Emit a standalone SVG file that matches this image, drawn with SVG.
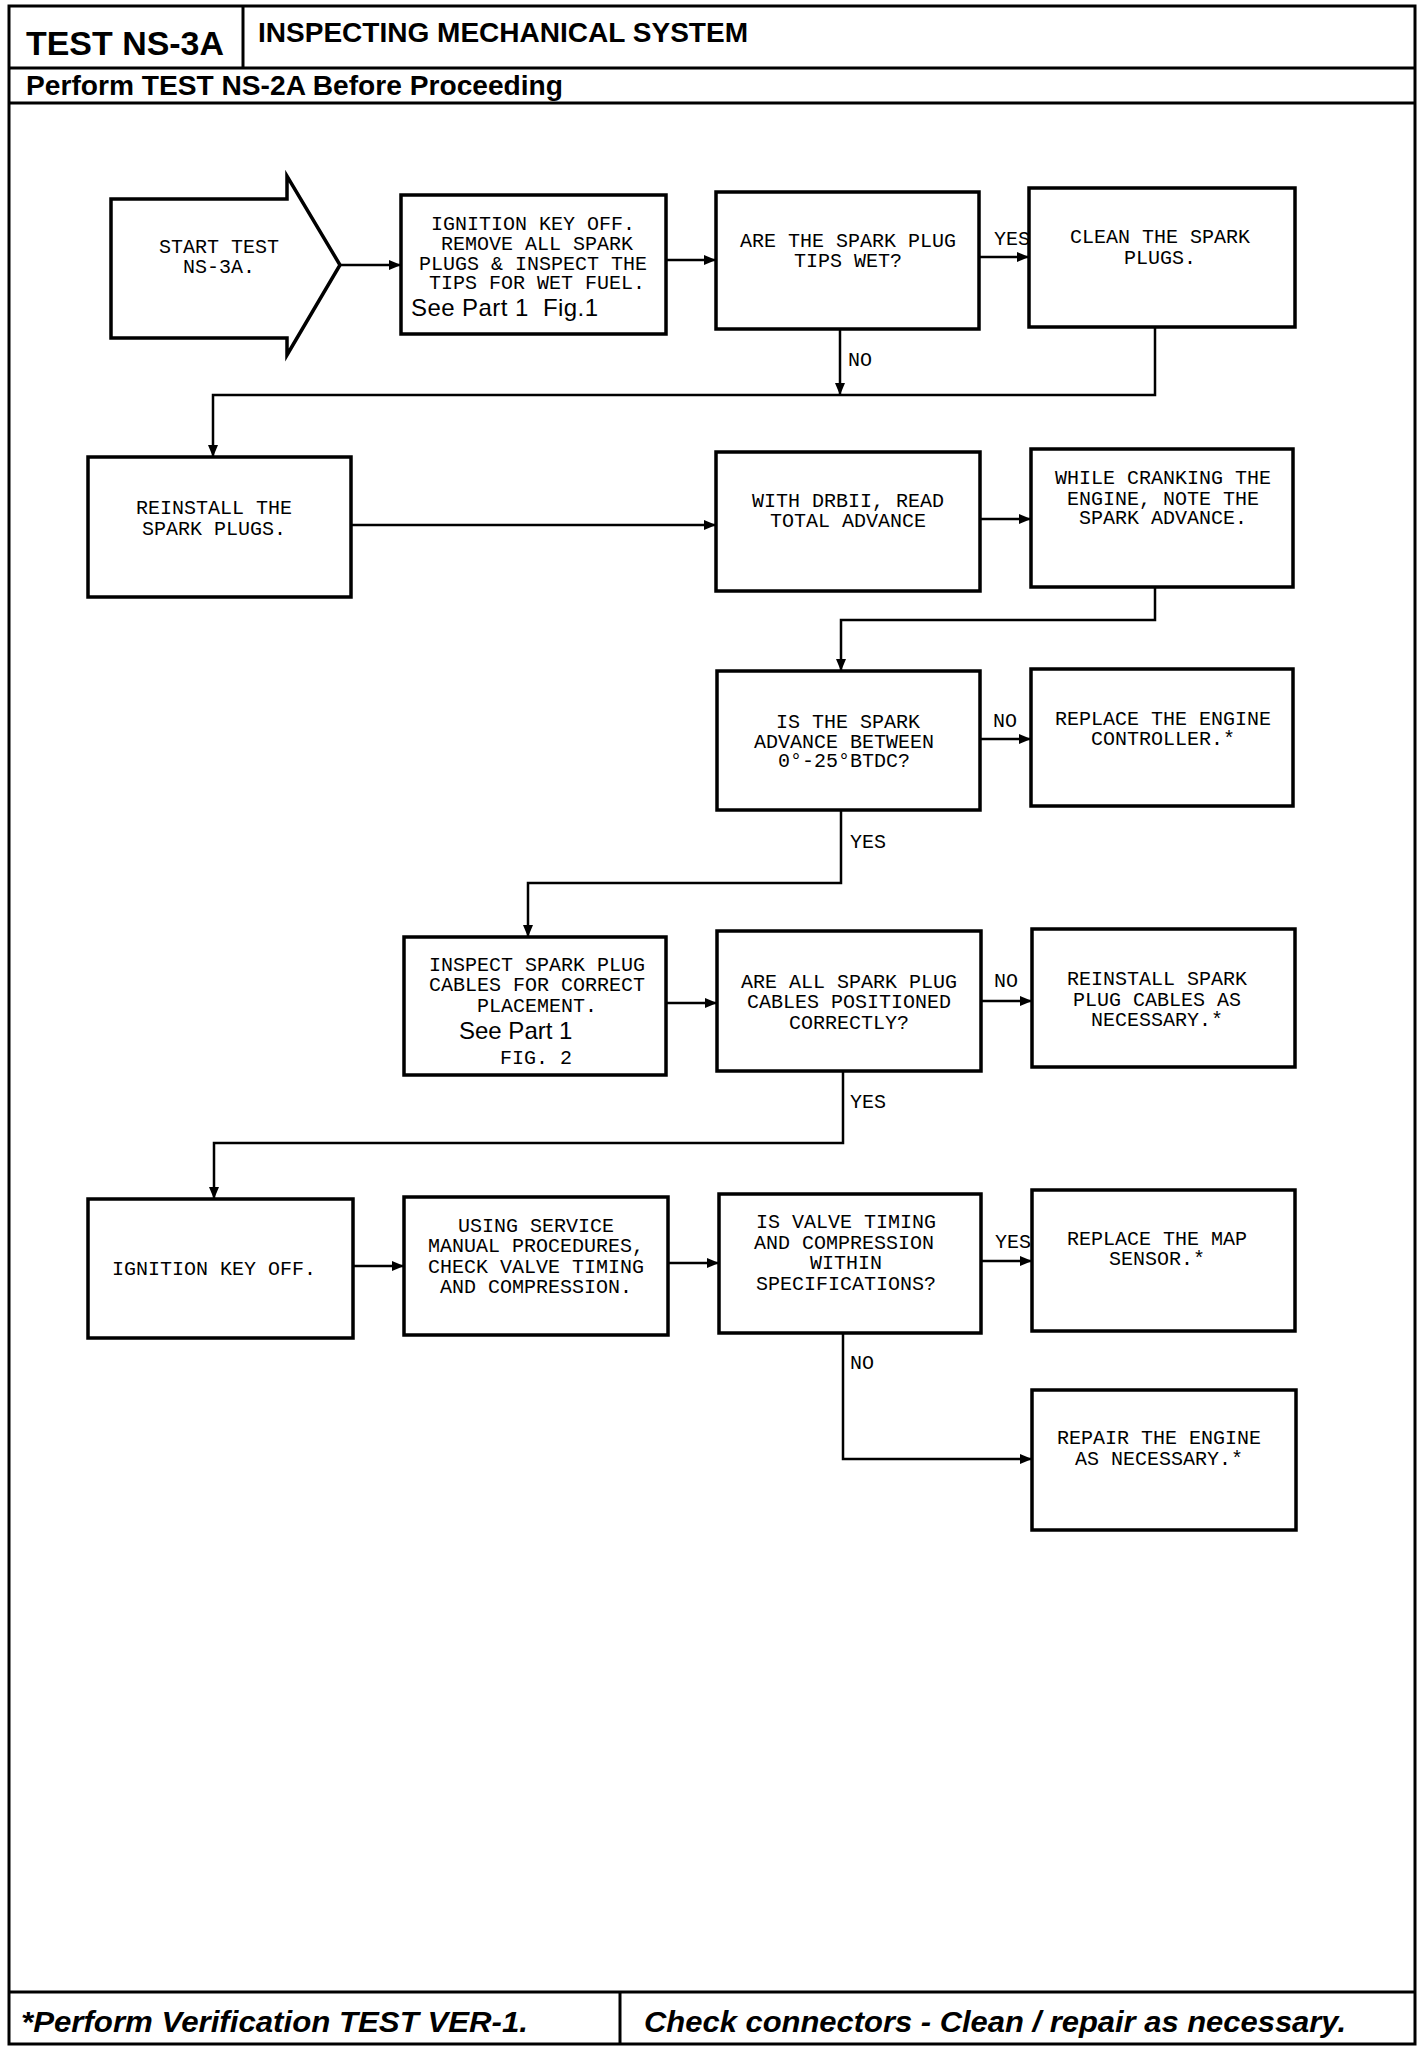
<svg xmlns="http://www.w3.org/2000/svg" width="1424" height="2048" viewBox="0 0 1424 2048">
<defs>
<marker id="arr" markerUnits="userSpaceOnUse" markerWidth="12" markerHeight="10" viewBox="0 0 12 10" refX="12" refY="5" orient="auto">
<path d="M0,0 L12,5 L0,10 Z" fill="#000"/>
</marker>
</defs>
<style>
.frame{fill:none;stroke:#000;stroke-width:3}
.box{fill:#fff;stroke:#000;stroke-width:3.5}
.c{fill:none;stroke:#000;stroke-width:2.5}
.t{font-family:"Liberation Mono","DejaVu Sans Mono",monospace;font-size:20px;fill:#000;text-anchor:middle}
.l{font-family:"Liberation Mono","DejaVu Sans Mono",monospace;font-size:20px;fill:#000}
.s{font-family:"Liberation Sans",Arial,sans-serif;font-size:24px;fill:#000}
.h{font-family:"Liberation Sans",Arial,sans-serif;font-weight:bold;fill:#000}
.f{font-family:"Liberation Sans",Arial,sans-serif;font-weight:bold;font-style:italic;fill:#000;font-size:29px}
</style>
<rect width="1424" height="2048" fill="#fff"/>
<g id="frame">
<rect class="frame" x="9" y="6" width="1406" height="2038"/>
<line class="frame" x1="9" y1="68" x2="1415" y2="68"/>
<line class="frame" x1="9" y1="103" x2="1415" y2="103"/>
<line class="frame" x1="243" y1="6" x2="243" y2="68"/>
<line class="frame" x1="9" y1="1992" x2="1415" y2="1992"/>
<line class="frame" x1="620" y1="1992" x2="620" y2="2044"/>
<text class="h" x="26" y="55" font-size="33" textLength="198" lengthAdjust="spacingAndGlyphs">TEST NS-3A</text>
<text class="h" x="258" y="42" font-size="28" textLength="490" lengthAdjust="spacingAndGlyphs">INSPECTING MECHANICAL SYSTEM</text>
<text class="h" x="26" y="95" font-size="28" textLength="537" lengthAdjust="spacingAndGlyphs">Perform TEST NS-2A Before Proceeding</text>
<text class="f" x="21" y="2032" textLength="507" lengthAdjust="spacingAndGlyphs">*Perform Verification TEST VER-1.</text>
<text class="f" x="644" y="2032" textLength="702" lengthAdjust="spacingAndGlyphs">Check connectors - Clean / repair as necessary.</text>
</g>
<g id="connectors">
<line class="c" x1="340" y1="265" x2="401" y2="265" marker-end="url(#arr)"/>
<line class="c" x1="666" y1="260" x2="716" y2="260" marker-end="url(#arr)"/>
<line class="c" x1="979" y1="257" x2="1029" y2="257" marker-end="url(#arr)"/>
<line class="c" x1="840" y1="329" x2="840" y2="395" marker-end="url(#arr)"/>
<polyline class="c" points="1155,327 1155,395 213,395 213,457" marker-end="url(#arr)"/>
<line class="c" x1="351" y1="525" x2="716" y2="525" marker-end="url(#arr)"/>
<line class="c" x1="980" y1="519" x2="1031" y2="519" marker-end="url(#arr)"/>
<polyline class="c" points="1155,587 1155,620 841,620 841,671" marker-end="url(#arr)"/>
<line class="c" x1="980" y1="739" x2="1031" y2="739" marker-end="url(#arr)"/>
<polyline class="c" points="841,810 841,883 528,883 528,937" marker-end="url(#arr)"/>
<line class="c" x1="666" y1="1003" x2="717" y2="1003" marker-end="url(#arr)"/>
<line class="c" x1="981" y1="1001" x2="1032" y2="1001" marker-end="url(#arr)"/>
<polyline class="c" points="843,1071 843,1143 214,1143 214,1199" marker-end="url(#arr)"/>
<line class="c" x1="353" y1="1266" x2="404" y2="1266" marker-end="url(#arr)"/>
<line class="c" x1="668" y1="1263" x2="719" y2="1263" marker-end="url(#arr)"/>
<line class="c" x1="981" y1="1261" x2="1032" y2="1261" marker-end="url(#arr)"/>
<polyline class="c" points="843,1333 843,1459 1032,1459" marker-end="url(#arr)"/>
<text class="l" x="994" y="245">YES</text>
<text class="l" x="848" y="366">NO</text>
<text class="l" x="993" y="727">NO</text>
<text class="l" x="850" y="848">YES</text>
<text class="l" x="994" y="987">NO</text>
<text class="l" x="850" y="1108">YES</text>
<text class="l" x="995" y="1248">YES</text>
<text class="l" x="850" y="1369">NO</text>
</g>
<g id="n-start">
<polygon class="box" points="111,199 287,199 287,176 340,265 287,355 287,338 111,338"/>
<text class="t" x="219" y="253">START TEST</text>
<text class="t" x="219" y="273">NS-3A.</text>
</g>
<g id="n-remove">
<rect class="box" x="401" y="195" width="265" height="139"/>
<text class="t" x="533" y="230">IGNITION KEY OFF.</text>
<text class="t" x="537" y="250">REMOVE ALL SPARK</text>
<text class="t" x="533" y="270">PLUGS &amp; INSPECT THE</text>
<text class="t" x="537" y="289">TIPS FOR WET FUEL.</text>
<text class="s" x="411" y="316" xml:space="preserve" textLength="187" lengthAdjust="spacing">See Part 1  Fig.1</text>
</g>
<g id="n-wet">
<rect class="box" x="716" y="192" width="263" height="137"/>
<text class="t" x="848" y="247">ARE THE SPARK PLUG</text>
<text class="t" x="848" y="267">TIPS WET?</text>
</g>
<g id="n-clean">
<rect class="box" x="1029" y="188" width="266" height="139"/>
<text class="t" x="1160" y="243">CLEAN THE SPARK</text>
<text class="t" x="1160" y="264">PLUGS.</text>
</g>
<g id="n-reinstall">
<rect class="box" x="88" y="457" width="263" height="140"/>
<text class="t" x="214" y="514">REINSTALL THE</text>
<text class="t" x="214" y="535">SPARK PLUGS.</text>
</g>
<g id="n-drb">
<rect class="box" x="716" y="452" width="264" height="139"/>
<text class="t" x="848" y="507">WITH DRBII, READ</text>
<text class="t" x="848" y="527">TOTAL ADVANCE</text>
</g>
<g id="n-crank">
<rect class="box" x="1031" y="449" width="262" height="138"/>
<text class="t" x="1163" y="484">WHILE CRANKING THE</text>
<text class="t" x="1163" y="505">ENGINE, NOTE THE</text>
<text class="t" x="1163" y="524">SPARK ADVANCE.</text>
</g>
<g id="n-between">
<rect class="box" x="717" y="671" width="263" height="139"/>
<text class="t" x="848" y="728">IS THE SPARK</text>
<text class="t" x="844" y="748">ADVANCE BETWEEN</text>
<text class="t" x="844" y="767">0°-25°BTDC?</text>
</g>
<g id="n-controller">
<rect class="box" x="1031" y="669" width="262" height="137"/>
<text class="t" x="1163" y="725">REPLACE THE ENGINE</text>
<text class="t" x="1163" y="745">CONTROLLER.*</text>
</g>
<g id="n-inspect">
<rect class="box" x="404" y="937" width="262" height="138"/>
<text class="t" x="537" y="971">INSPECT SPARK PLUG</text>
<text class="t" x="537" y="991">CABLES FOR CORRECT</text>
<text class="t" x="537" y="1012">PLACEMENT.</text>
<text class="s" x="459" y="1039">See Part 1</text>
<text class="t" x="536" y="1064">FIG. 2</text>
</g>
<g id="n-positioned">
<rect class="box" x="717" y="931" width="264" height="140"/>
<text class="t" x="849" y="988">ARE ALL SPARK PLUG</text>
<text class="t" x="849" y="1008">CABLES POSITIONED</text>
<text class="t" x="849" y="1029">CORRECTLY?</text>
</g>
<g id="n-cables">
<rect class="box" x="1032" y="929" width="263" height="138"/>
<text class="t" x="1157" y="985">REINSTALL SPARK</text>
<text class="t" x="1157" y="1006">PLUG CABLES AS</text>
<text class="t" x="1157" y="1026">NECESSARY.*</text>
</g>
<g id="n-keyoff">
<rect class="box" x="88" y="1199" width="265" height="139"/>
<text class="t" x="214" y="1275">IGNITION KEY OFF.</text>
</g>
<g id="n-service">
<rect class="box" x="404" y="1197" width="264" height="138"/>
<text class="t" x="536" y="1232">USING SERVICE</text>
<text class="t" x="536" y="1252">MANUAL PROCEDURES,</text>
<text class="t" x="536" y="1273">CHECK VALVE TIMING</text>
<text class="t" x="536" y="1293">AND COMPRESSION.</text>
</g>
<g id="n-valve">
<rect class="box" x="719" y="1194" width="262" height="139"/>
<text class="t" x="846" y="1228">IS VALVE TIMING</text>
<text class="t" x="844" y="1249">AND COMPRESSION</text>
<text class="t" x="846" y="1269">WITHIN</text>
<text class="t" x="846" y="1290">SPECIFICATIONS?</text>
</g>
<g id="n-map">
<rect class="box" x="1032" y="1190" width="263" height="141"/>
<text class="t" x="1157" y="1245">REPLACE THE MAP</text>
<text class="t" x="1157" y="1265">SENSOR.*</text>
</g>
<g id="n-repair">
<rect class="box" x="1032" y="1390" width="264" height="140"/>
<text class="t" x="1159" y="1444">REPAIR THE ENGINE</text>
<text class="t" x="1159" y="1465">AS NECESSARY.*</text>
</g>
</svg>
